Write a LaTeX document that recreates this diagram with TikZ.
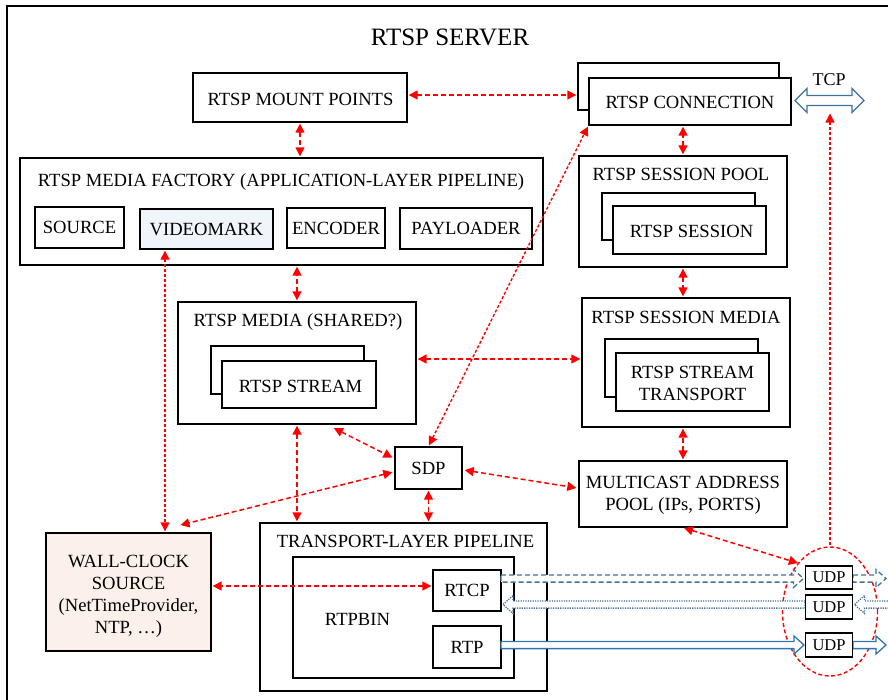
\documentclass[tikz,border=0pt]{standalone}
\usepackage{fontspec}
\setmainfont{Liberation Serif}
\usetikzlibrary{arrows.meta,calc,shapes.geometric}

\definecolor{linkred}{RGB}{255,0,0}
\definecolor{tcpblue}{RGB}{65,113,156}
\definecolor{rtpblue}{RGB}{46,117,182}
\definecolor{markfill}{RGB}{239,245,251}
\definecolor{clockfill}{RGB}{252,241,234}

% hollow block arrow: #1 style, #2 tail, #3 tip, #4 direction (1 = right, -1 = left)
\newcommand\flowarrow[4]{%
  \draw[#1] ($(#2)+(0,-3.6)$) -- ($(#3)+({-10*(#4)},-3.6)$) -- ($(#3)+({-10*(#4)},-9)$)
    -- (#3) -- ($(#3)+({-10*(#4)},9)$) -- ($(#3)+({-10*(#4)},3.6)$) -- ($(#2)+(0,3.6)$) -- cycle;}

\begin{document}
\begin{tikzpicture}[x=1pt,y=-1pt,
  >={Triangle[length=9pt,width=9pt]},
  txt/.style={font=\fontsize{18.6}{22}\selectfont},
  box/.style={draw, line width=1.4pt, rectangle, inner sep=0pt, fill=white, txt, align=center},
  lbl/.style={inner sep=0pt, txt},
  link/.style={draw=linkred, line width=1.5pt, dash pattern=on 5pt off 3pt, <->, shorten <=1pt, shorten >=1pt},
  finelink/.style={link, line width=1.4pt, dash pattern=on 3pt off 2pt},
  udpbox/.style={box, line width=1.3pt, minimum width=47, font=\fontsize{16.5}{18}\selectfont},
  udpdash/.style={draw=tcpblue, line width=1.3pt, fill=white, dash pattern=on 5pt off 3pt},
  udpdot/.style={draw=tcpblue, line width=1.3pt, fill=white, dash pattern=on 1.2pt off 1.2pt},
  udpsolid/.style={draw=rtpblue, line width=1.3pt, fill=white},
  ]
\useasboundingbox (0,0) rectangle (888,699);

% server frame, open to the right and bottom
\draw[line width=2pt] (900,6) -- (7,6) -- (7,710);
\node[font=\fontsize{25}{28}\selectfont, inner sep=0pt] (title) at (450,37) {RTSP SERVER};

% top row
\node[box, minimum width=214, minimum height=49] (mount) at (300,97.5) {};
\node[lbl] (mountT) at (300.5,99) {RTSP MOUNT POINTS};
\node[box, minimum width=201, minimum height=47] (connB) at (678.5,86.5) {};
\node[box, minimum width=202, minimum height=47] (conn) at (690,101.5) {};
\node[lbl] (connT) at (690,102.5) {RTSP CONNECTION};

% TCP block arrow
\coordinate (tcpL) at (795,100.5);
\coordinate (tcpR) at (864,100.5);
\coordinate (tcpB) at (830,112.5);
\draw[tcpblue, line width=1.3pt, fill=white]
  (tcpL) -- ($(tcpL)+(12,-12)$) -- ($(tcpL)+(12,-5)$) -- ($(tcpR)+(-12,-5)$)
  -- ($(tcpR)+(-12,-12)$) -- (tcpR) -- ($(tcpR)+(-12,12)$) -- ($(tcpR)+(-12,5)$)
  -- ($(tcpL)+(12,5)$) -- ($(tcpL)+(12,12)$) -- cycle;
\node[lbl, font=\fontsize{18}{20}\selectfont] (tcp) at (829,80) {TCP};

% media factory
\node[box, minimum width=523, minimum height=107] (factory) at (281.5,211.5) {};
\node[lbl] (factoryT) at (281,182) {RTSP MEDIA FACTORY (APPLICATION-LAYER PIPELINE)};
\node[box, minimum width=89, minimum height=41] (source) at (79.5,227.5) {SOURCE};
\node[box, fill=markfill, minimum width=133, minimum height=40] (videomark) at (206.5,229) {VIDEOMARK};
\node[box, minimum width=98, minimum height=40] (encoder) at (336,228) {ENCODER};
\node[box, minimum width=132, minimum height=41] (payloader) at (466,228.5) {PAYLOADER};

% session pool
\node[box, minimum width=208, minimum height=111] (pool) at (683,211.5) {};
\node[lbl] (poolT) at (681,174) {RTSP SESSION POOL};
\node[box, minimum width=153, minimum height=47] (sessB) at (678.5,216.5) {};
\node[box, minimum width=153, minimum height=48] (sess) at (689.5,230) {};
\node[lbl] (sessT) at (691.5,231) {RTSP SESSION};

% rtsp media
\node[box, minimum width=238, minimum height=122] (media) at (297,363) {};
\node[lbl] (mediaT) at (298,322) {RTSP MEDIA (SHARED?)};
\node[box, minimum width=153, minimum height=48] (streamB) at (287.5,370) {};
\node[box, minimum width=154, minimum height=47] (stream) at (299,384.5) {};
\node[lbl] (streamT) at (300.5,386) {RTSP STREAM};

% session media
\node[box, minimum width=208, minimum height=129] (smedia) at (686,362.5) {};
\node[lbl] (smediaT) at (686,317) {RTSP SESSION MEDIA};
\node[box, minimum width=153, minimum height=58] (trB) at (681.5,368) {};
\node[box, minimum width=153, minimum height=58] (tr) at (692.5,382) {};
\node[lbl, align=center] (trT) at (692.5,383.5) {RTSP STREAM\\TRANSPORT};

% SDP, multicast pool, wall clock
\node[box, minimum width=67, minimum height=42] (sdp) at (428.5,468) {SDP};
\node[box, minimum width=208, minimum height=66] (mcast) at (683,494) {};
\node[lbl, align=center] (mcastT) at (683,495.5) {MULTICAST ADDRESS\\POOL (IPs, PORTS)};
\node[box, fill=clockfill, minimum width=165, minimum height=118] (wall) at (128.5,592) {};
\node[lbl, align=center] (wallT) at (128.5,596.5) {WALL-CLOCK\\SOURCE\\(NetTimeProvider,\\NTP, …)};

% transport pipeline
\node[box, minimum width=287, minimum height=168] (transport) at (403.5,607) {};
\node[lbl] (transportT) at (405.5,541) {TRANSPORT-LAYER PIPELINE};
\node[box, minimum width=221, minimum height=121] (rtpbin) at (403.5,617.5) {};
\node[lbl] (rtpbinT) at (357.5,619) {RTPBIN};
\node[box, minimum width=68, minimum height=41] (rtcp) at (467,590.5) {RTCP};
\node[box, minimum width=68, minimum height=42] (rtp) at (467,647) {RTP};

% UDP sockets and their grouping ring
\node[draw=linkred, line width=1.4pt, dash pattern=on 4pt off 2.5pt, ellipse,
      minimum width=95, minimum height=129, inner sep=0pt] (ring) at (830,611.5) {};

\coordinate (udp1p) at (829,577.5);
\coordinate (udp2p) at (829,607);
\coordinate (udp3p) at (829,645);

% RTCP out
\coordinate (a1t) at (501,578.5);
\coordinate (a1h) at (803.5,578.5);
\flowarrow{udpdash}{a1t}{a1h}{1}
\coordinate (a2t) at (853,578.5);
\coordinate (a2h) at (886,578.5);
\flowarrow{udpdash}{a2t}{a2h}{1}
% RTCP in
\coordinate (b1t) at (805,604.5);
\coordinate (b1h) at (503,604.5);
\flowarrow{udpdot}{b1t}{b1h}{-1}
\coordinate (b2t) at (895,604.5);
\coordinate (b2h) at (854.5,604.5);
\flowarrow{udpdot}{b2t}{b2h}{-1}
% RTP out
\coordinate (c1t) at (501,645);
\coordinate (c1h) at (804,645);
\flowarrow{udpsolid}{c1t}{c1h}{1}
\coordinate (c2t) at (853,645);
\coordinate (c2h) at (886,645);
\flowarrow{udpsolid}{c2t}{c2h}{1}

\node[udpbox, minimum height=23] (udp1) at (udp1p) {UDP};
\node[udpbox, minimum height=24] (udp2) at (udp2p) {UDP};
\node[udpbox, minimum height=24] (udp3) at (udp3p) {UDP};

% control links
\draw[link] ($(mount.east)+(0,-2.5)$) -- ($(mount.east -| connB.west)+(0,-2.5)$);
\draw[link] (mount.south) -- (mount.south |- factory.north);
\draw[link] (pool.north) -- (pool.north |- conn.south);
\draw[link] (media.north) -- (media.north |- factory.south);
\draw[link] (pool.south) -- (pool.south |- smedia.north);
\draw[link] ($(media.east)+(0,-4)$) -- ($(media.east -| smedia.west)+(0,-4)$);
\draw[link] (mcast.north) -- (mcast.north |- smedia.south);
\draw[finelink] (sdp.north) -- (conn.south west);
\draw[link] ($(media.south)+(36,3)$) -- ($(sdp.west)+(-1,-10)$);
\draw[link] ($(sdp.west)+(-1,4)$) -- ($(wall.north)+(51,-7)$);
\draw[link] ($(sdp.east)+(1,2)$) -- ($(mcast.west)+(-1,-6)$);
\draw[link] (sdp.south) -- (sdp.south |- transport.north);
\draw[link] (media.south) -- (media.south |- transport.north);
\coordinate (vm) at ($(videomark.south)+(-41.5,0)$);
\draw[finelink] (vm) -- (vm |- wall.north);
\draw[link] ($(rtcp.west)+(0,-4.5)$) -- ($(rtcp.west -| wall.east)+(0,-4.5)$);
\draw[link] (mcast.south) -- ($(udp1.north west)+(-6,-2)$);
\draw[finelink, ->] (ring.north) -- (ring.north |- tcpB);
\end{tikzpicture}
\end{document}
